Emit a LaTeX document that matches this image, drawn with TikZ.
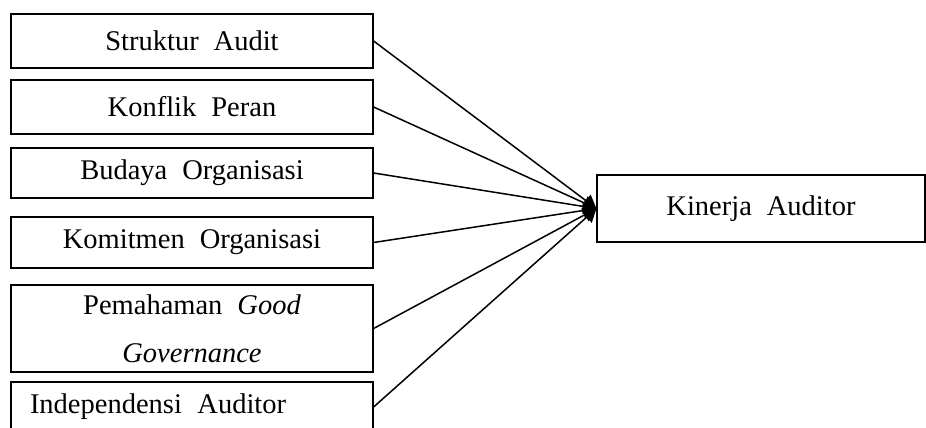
\documentclass[tikz,border=0pt]{standalone}
\usepackage{fontspec}
\setmainfont{Liberation Serif}[WordSpace=2.1]
\usetikzlibrary{arrows.meta}

\begin{document}
\begin{tikzpicture}[x=1pt, y=-1pt,
	varbox/.style={draw, line width=1.2pt, minimum width=362pt, inner sep=0pt,
		font=\fontsize{28.5}{48}\selectfont},
	link/.style={line width=1.5pt, -{Triangle[length=13pt, width=15pt]}}]
	%%%%% START %%%%%
	\useasboundingbox (0, 0) rectangle (926, 428);
	
	\node[varbox, minimum height=54pt] (struktur) at (192, 41) {Struktur Audit};
	\node[varbox, minimum height=54pt] (konflik) at (192, 107) {Konflik Peran};
	\node[varbox, minimum height=50pt] (budaya) at (192, 173) {Budaya Organisasi};
	\node[varbox, minimum height=51pt] (komitmen) at (192, 242.5) {Komitmen Organisasi};
	\node[varbox, minimum height=87pt, align=center] (paham) at (192, 328.5)
		{Pemahaman \textit{Good}\\\textit{Governance}};
	\node[varbox, minimum height=50pt, text width=324pt, align=left] (independen) at (192, 407)
		{Independensi\hspace{6pt} Auditor};
	
	\node[varbox, minimum width=328pt, minimum height=67pt] (kinerja) at (761, 208.5) {Kinerja Auditor};
	
	\foreach \v in {struktur, konflik, budaya, komitmen, paham, independen}
		\draw[link] (\v.east) -- (kinerja.west);
	
	%%%%% END %%%%%
\end{tikzpicture}
\end{document}
